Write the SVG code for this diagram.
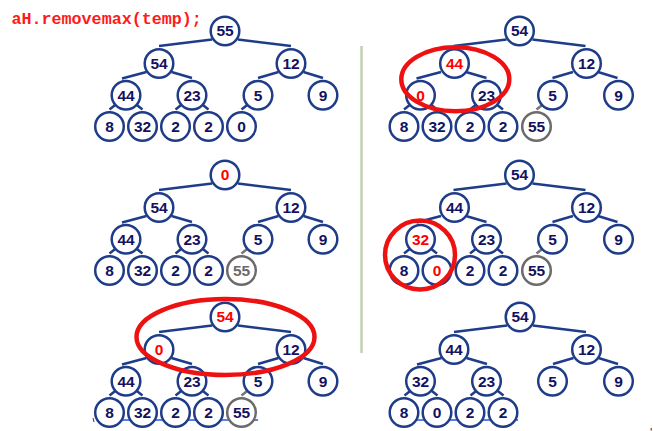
<svg xmlns="http://www.w3.org/2000/svg" xmlns:xlink="http://www.w3.org/1999/xlink" width="653" height="431" viewBox="0 0 653 431">
<style>
.node circle{fill:#fff;stroke:#1f3c88;stroke-width:2.5}
.node text{font-family:"Liberation Sans",Arial,sans-serif;font-weight:bold;font-size:15.5px;fill:#12125e;text-anchor:middle}
.node.gray circle{stroke:#6b6b6b}
.node.gray.gt text{fill:#6b6b6b}
.node.red text{fill:#ff0000}
.edge{stroke:#1f3c88;stroke-width:2.5;fill:none}
.edge.gray{stroke:#777}
.hl{fill:none;stroke:#ee1111;stroke-width:4.5}
.title{font-family:"Liberation Mono","Courier New",monospace;font-weight:bold;font-size:16.7px;fill:#ff1a1a}
</style>
<defs>
<g id="edgesBase" class="edge">
<line x1="-13" y1="8.5" x2="-66" y2="15"/>
<line x1="13" y1="8.5" x2="66" y2="15"/>
<line x1="-78.5" y1="41" x2="-103" y2="47.5"/>
<line x1="-53.5" y1="41" x2="-33" y2="47"/>
<line x1="53.5" y1="41" x2="33" y2="47"/>
<line x1="78.5" y1="41" x2="98" y2="47"/>
<line x1="-109.5" y1="73.8" x2="-115.5" y2="78.5"/>
<line x1="-88.5" y1="73.8" x2="-82.5" y2="78.5"/>
<line x1="-43.5" y1="73.8" x2="-49.5" y2="78.5"/>
<line x1="-22.5" y1="73.8" x2="-16.5" y2="78.5"/>
</g>
</defs>
<rect width="653" height="431" fill="#fff"/>
<text class="title" x="11.5" y="24">aH.removemax(temp);</text>
<line x1="361.5" y1="46" x2="361.5" y2="353" stroke="#c3cfb0" stroke-width="2.5"/>
<g id="underlines">
<line x1="118" y1="420" x2="258" y2="420" stroke="#5a82e6" stroke-width="2"/>
<line x1="392" y1="420" x2="518" y2="420" stroke="#5a82e6" stroke-width="2"/>
<line x1="93" y1="418" x2="94" y2="422" stroke="#333" stroke-width="1"/>
<rect x="650.5" y="428" width="1.5" height="2.5" fill="#cc5500"/>
</g>
<g id="connectors">
<g transform="translate(225,31)"><use xlink:href="#edgesBase"/><line class="edge" x1="22.5" y1="73.8" x2="16.5" y2="78.5"/></g>
<g transform="translate(519.5,31)"><use xlink:href="#edgesBase"/><line class="edge gray" x1="23" y1="73.8" x2="17" y2="78.5"/></g>
<g transform="translate(225,175)"><use xlink:href="#edgesBase"/><line class="edge gray" x1="22.5" y1="73.8" x2="16.5" y2="78.5"/></g>
<g transform="translate(519.5,175)"><use xlink:href="#edgesBase"/><line class="edge gray" x1="23" y1="73.8" x2="17" y2="78.5"/></g>
<g transform="translate(225,317)"><use xlink:href="#edgesBase"/><line class="edge gray" x1="22.5" y1="73.8" x2="16.5" y2="78.5"/></g>
<g transform="translate(520,317)"><use xlink:href="#edgesBase"/></g>
</g>
<g id="treeA" transform="translate(225,31)">
<g id="A-root" class="node"><circle r="14.3"/><text y="5.4">55</text></g>
<g id="A-54" class="node" transform="translate(-66,32.5)"><circle r="14.3"/><text y="5.4">54</text></g>
<g id="A-12" class="node" transform="translate(66,32.5)"><circle r="14.3"/><text y="5.4">12</text></g>
<g id="A-44" class="node" transform="translate(-99,64.3)"><circle r="14.3"/><text y="5.4">44</text></g>
<g id="A-23" class="node" transform="translate(-33,64.3)"><circle r="14.3"/><text y="5.4">23</text></g>
<g id="A-5" class="node" transform="translate(33,64.3)"><circle r="14.3"/><text y="5.4">5</text></g>
<g id="A-9" class="node" transform="translate(98,64.3)"><circle r="14.3"/><text y="5.4">9</text></g>
<g id="A-8" class="node" transform="translate(-115.5,95.5)"><circle r="14.3"/><text y="5.4">8</text></g>
<g id="A-32" class="node" transform="translate(-82.5,95.5)"><circle r="14.3"/><text y="5.4">32</text></g>
<g id="A-2a" class="node" transform="translate(-49.5,95.5)"><circle r="14.3"/><text y="5.4">2</text></g>
<g id="A-2b" class="node" transform="translate(-16.5,95.5)"><circle r="14.3"/><text y="5.4">2</text></g>
<g id="A-0" class="node" transform="translate(16.5,95.5)"><circle r="14.3"/><text y="5.4">0</text></g>
</g>
<g id="treeB" transform="translate(519.5,31)">
<g id="B-root" class="node"><circle r="14.3"/><text y="5.4">54</text></g>
<g id="B-44" class="node red" transform="translate(-65,32.5)"><circle r="14.3"/><text y="5.4">44</text></g>
<g id="B-12" class="node" transform="translate(67,32.5)"><circle r="14.3"/><text y="5.4">12</text></g>
<g id="B-0" class="node red" transform="translate(-99,64.3)"><circle r="14.3"/><text y="5.4">0</text></g>
<g id="B-23" class="node" transform="translate(-33,64.3)"><circle r="14.3"/><text y="5.4">23</text></g>
<g id="B-5" class="node" transform="translate(33,64.3)"><circle r="14.3"/><text y="5.4">5</text></g>
<g id="B-9" class="node" transform="translate(99,64.3)"><circle r="14.3"/><text y="5.4">9</text></g>
<g id="B-8" class="node" transform="translate(-115.5,95.5)"><circle r="14.3"/><text y="5.4">8</text></g>
<g id="B-32" class="node" transform="translate(-82.5,95.5)"><circle r="14.3"/><text y="5.4">32</text></g>
<g id="B-2a" class="node" transform="translate(-49.5,95.5)"><circle r="14.3"/><text y="5.4">2</text></g>
<g id="B-2b" class="node" transform="translate(-16.5,95.5)"><circle r="14.3"/><text y="5.4">2</text></g>
<g id="B-55" class="node gray" transform="translate(17,95.5)"><circle r="14.3"/><text y="5.4">55</text></g>
</g>
<g id="treeC" transform="translate(225,175)">
<g id="C-root" class="node red"><circle r="14.3"/><text y="5.4">0</text></g>
<g id="C-54" class="node" transform="translate(-66,32.5)"><circle r="14.3"/><text y="5.4">54</text></g>
<g id="C-12" class="node" transform="translate(66,32.5)"><circle r="14.3"/><text y="5.4">12</text></g>
<g id="C-44" class="node" transform="translate(-99,64.3)"><circle r="14.3"/><text y="5.4">44</text></g>
<g id="C-23" class="node" transform="translate(-33,64.3)"><circle r="14.3"/><text y="5.4">23</text></g>
<g id="C-5" class="node" transform="translate(33,64.3)"><circle r="14.3"/><text y="5.4">5</text></g>
<g id="C-9" class="node" transform="translate(98,64.3)"><circle r="14.3"/><text y="5.4">9</text></g>
<g id="C-8" class="node" transform="translate(-115.5,95.5)"><circle r="14.3"/><text y="5.4">8</text></g>
<g id="C-32" class="node" transform="translate(-82.5,95.5)"><circle r="14.3"/><text y="5.4">32</text></g>
<g id="C-2a" class="node" transform="translate(-49.5,95.5)"><circle r="14.3"/><text y="5.4">2</text></g>
<g id="C-2b" class="node" transform="translate(-16.5,95.5)"><circle r="14.3"/><text y="5.4">2</text></g>
<g id="C-55" class="node gray gt" transform="translate(16.5,95.5)"><circle r="14.3"/><text y="5.4">55</text></g>
</g>
<g id="treeD" transform="translate(519.5,175)">
<g id="D-root" class="node"><circle r="14.3"/><text y="5.4">54</text></g>
<g id="D-44" class="node" transform="translate(-65,32.5)"><circle r="14.3"/><text y="5.4">44</text></g>
<g id="D-12" class="node" transform="translate(67,32.5)"><circle r="14.3"/><text y="5.4">12</text></g>
<g id="D-32" class="node red" transform="translate(-99,64.3)"><circle r="14.3"/><text y="5.4">32</text></g>
<g id="D-23" class="node" transform="translate(-33,64.3)"><circle r="14.3"/><text y="5.4">23</text></g>
<g id="D-5" class="node" transform="translate(33,64.3)"><circle r="14.3"/><text y="5.4">5</text></g>
<g id="D-9" class="node" transform="translate(99,64.3)"><circle r="14.3"/><text y="5.4">9</text></g>
<g id="D-8" class="node" transform="translate(-115.5,95.5)"><circle r="14.3"/><text y="5.4">8</text></g>
<g id="D-0" class="node red" transform="translate(-82.5,95.5)"><circle r="14.3"/><text y="5.4">0</text></g>
<g id="D-2a" class="node" transform="translate(-49.5,95.5)"><circle r="14.3"/><text y="5.4">2</text></g>
<g id="D-2b" class="node" transform="translate(-16.5,95.5)"><circle r="14.3"/><text y="5.4">2</text></g>
<g id="D-55" class="node gray" transform="translate(17,95.5)"><circle r="14.3"/><text y="5.4">55</text></g>
</g>
<g id="treeE" transform="translate(225,317)">
<g id="E-root" class="node red"><circle r="14.3"/><text y="5.4">54</text></g>
<g id="E-0" class="node red" transform="translate(-66,32.5)"><circle r="14.3"/><text y="5.4">0</text></g>
<g id="E-12" class="node" transform="translate(66,32.5)"><circle r="14.3"/><text y="5.4">12</text></g>
<g id="E-44" class="node" transform="translate(-99,64.3)"><circle r="14.3"/><text y="5.4">44</text></g>
<g id="E-23" class="node" transform="translate(-33,64.3)"><circle r="14.3"/><text y="5.4">23</text></g>
<g id="E-5" class="node" transform="translate(33,64.3)"><circle r="14.3"/><text y="5.4">5</text></g>
<g id="E-9" class="node" transform="translate(98,64.3)"><circle r="14.3"/><text y="5.4">9</text></g>
<g id="E-8" class="node" transform="translate(-115.5,95.5)"><circle r="14.3"/><text y="5.4">8</text></g>
<g id="E-32" class="node" transform="translate(-82.5,95.5)"><circle r="14.3"/><text y="5.4">32</text></g>
<g id="E-2a" class="node" transform="translate(-49.5,95.5)"><circle r="14.3"/><text y="5.4">2</text></g>
<g id="E-2b" class="node" transform="translate(-16.5,95.5)"><circle r="14.3"/><text y="5.4">2</text></g>
<g id="E-55" class="node gray" transform="translate(16.5,95.5)"><circle r="14.3"/><text y="5.4">55</text></g>
</g>
<g id="treeF" transform="translate(520,317)">
<g id="F-root" class="node"><circle r="14.3"/><text y="5.4">54</text></g>
<g id="F-44" class="node" transform="translate(-66,32.5)"><circle r="14.3"/><text y="5.4">44</text></g>
<g id="F-12" class="node" transform="translate(66.5,32.5)"><circle r="14.3"/><text y="5.4">12</text></g>
<g id="F-32" class="node" transform="translate(-99.5,64.3)"><circle r="14.3"/><text y="5.4">32</text></g>
<g id="F-23" class="node" transform="translate(-33.5,64.3)"><circle r="14.3"/><text y="5.4">23</text></g>
<g id="F-5" class="node" transform="translate(32.5,64.3)"><circle r="14.3"/><text y="5.4">5</text></g>
<g id="F-9" class="node" transform="translate(98.5,64.3)"><circle r="14.3"/><text y="5.4">9</text></g>
<g id="F-8" class="node" transform="translate(-116,95.5)"><circle r="14.3"/><text y="5.4">8</text></g>
<g id="F-0" class="node" transform="translate(-83,95.5)"><circle r="14.3"/><text y="5.4">0</text></g>
<g id="F-2a" class="node" transform="translate(-50,95.5)"><circle r="14.3"/><text y="5.4">2</text></g>
<g id="F-2b" class="node" transform="translate(-17,95.5)"><circle r="14.3"/><text y="5.4">2</text></g>
</g>
<g id="highlights">
<ellipse class="hl" cx="455.3" cy="79.2" rx="54" ry="32"/>
<ellipse class="hl" cx="420" cy="255" rx="35" ry="34.5"/>
<ellipse class="hl" cx="225.5" cy="337" rx="89" ry="38"/>
</g>
</svg>
